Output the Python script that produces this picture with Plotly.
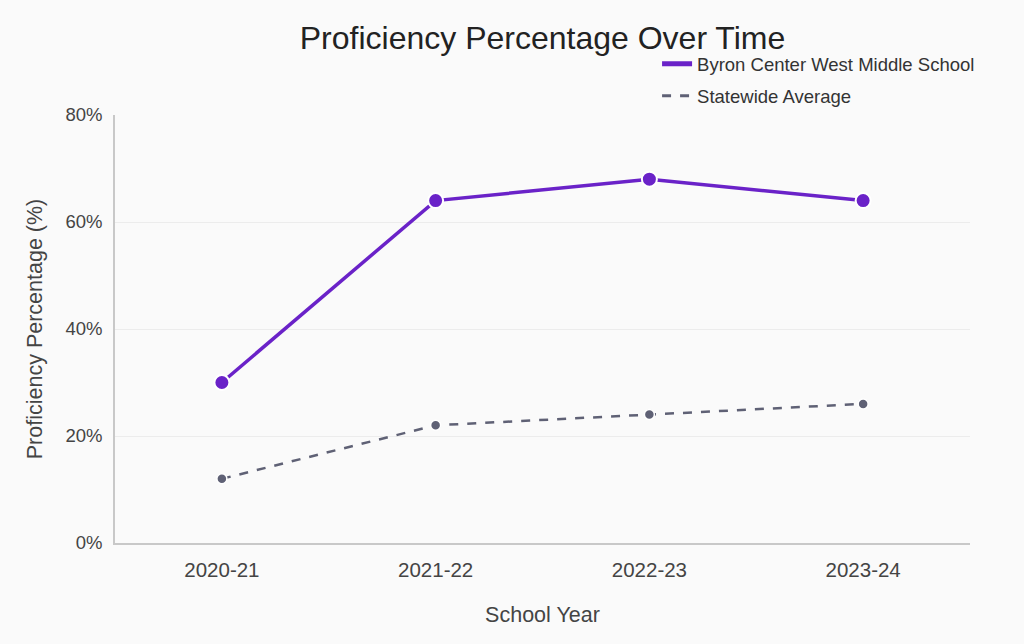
import plotly.graph_objects as go

years = ["2020-21", "2021-22", "2022-23", "2023-24"]
school_vals = [30, 64, 68, 64]
state_vals = [12, 22, 24, 26]
y_ticks = [0, 20, 40, 60, 80]
y_tick_labels = ["0%", "20%", "40%", "60%", "80%"]

PURPLE = "#6a22c8"
GRAY = "#5f6175"

fig = go.Figure()
fig.add_trace(go.Scatter(
    x=years, y=school_vals, name="Byron Center West Middle School",
    mode="lines+markers", showlegend=False,
    line=dict(color=PURPLE, width=3.5),
    marker=dict(size=15, color=PURPLE, line=dict(color="white", width=2)),
))
fig.add_trace(go.Scatter(
    x=years, y=state_vals, name="Statewide Average",
    mode="lines+markers", showlegend=False,
    line=dict(color=GRAY, width=2.5, dash="dash"),
    marker=dict(size=10, color=GRAY, line=dict(color="white", width=1.5)),
))
# legend entries (line only, as in the reference)
fig.add_trace(go.Scatter(
    x=[None], y=[None], name="Byron Center West Middle School",
    mode="lines", legendgroup="a",
    line=dict(color=PURPLE, width=5),
))
fig.add_trace(go.Scatter(
    x=[None], y=[None], name="Statewide Average",
    mode="lines", legendgroup="b",
    line=dict(color=GRAY, width=3, dash="dash"),
))

fig.update_layout(
    width=1024, height=644,
    paper_bgcolor="#fafafa", plot_bgcolor="#fafafa",
    font=dict(family="Liberation Sans, Arial, sans-serif", color="#444", size=18),
    title=dict(text="Proficiency Percentage Over Time", x=0.5298, xanchor="center",
               y=0.941, yanchor="middle", font=dict(size=32, color="#222")),
    margin=dict(l=115, r=54, t=115, b=101),
    showlegend=True,
    legend=dict(x=0.634, xanchor="left", y=1.163, yanchor="top",
                bgcolor="rgba(0,0,0,0)", font=dict(size=18.5, color="#333"),
                tracegroupgap=5),
    xaxis=dict(title=dict(text="School Year", font=dict(size=21.5, color="#444"), standoff=27),
               showline=True, linecolor="#c8c8c8", linewidth=1.5,
               showgrid=False, ticks="outside", ticklen=8, tickcolor="rgba(0,0,0,0)",
               range=[-0.5, 3.5],
               tickfont=dict(size=20.5, color="#444")),
    yaxis=dict(title=dict(text="Proficiency Percentage (%)", font=dict(size=21.5, color="#444"), standoff=17),
               range=[0, 80], tickvals=y_ticks, ticktext=y_tick_labels,
               showline=True, linecolor="#c8c8c8", linewidth=1.5,
               gridcolor="#ececec", gridwidth=1, zeroline=False,
               tickfont=dict(size=18.5, color="#444"),
               ticks="outside", ticklen=7, tickcolor="rgba(0,0,0,0)"),
)

fig.write_html("out.html", config={"displayModeBar": False},
               post_script="document.body.style.margin='0';document.body.style.background='#fafafa';")
